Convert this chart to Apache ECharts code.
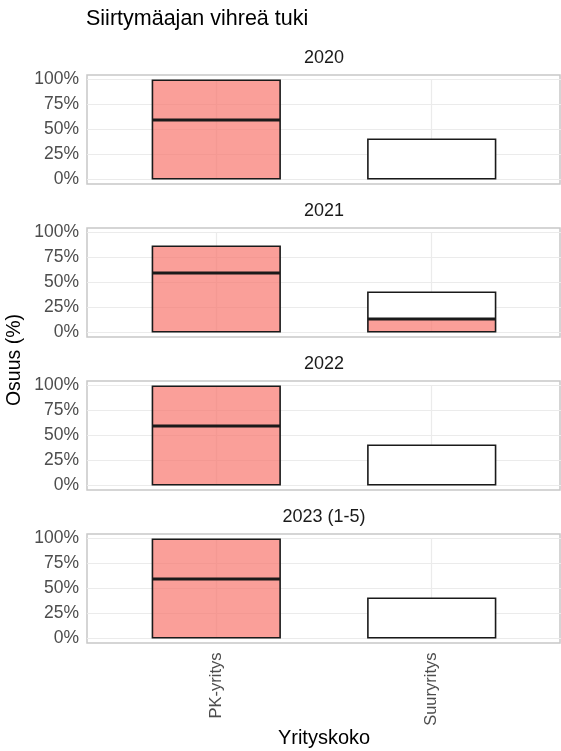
<!DOCTYPE html>
<html>
<head>
<meta charset="utf-8">
<script src="https://cdn.jsdelivr.net/npm/echarts@6/dist/echarts.min.js"></script>
<style>
  html, body { margin: 0; padding: 0; background: #fff; }
  #chart { width: 561px; height: 751px; }
</style>
</head>
<body>
<div id="chart"></div>
<script>
const years = ['2020', '2021', '2022', '2023 (1-5)'];
const categories = ['PK-yritys', 'Suuryritys'];
// pinon alaosa ja yläosa (%), järjestys: PK-yritys, Suuryritys
const lowerShare = [[59.5, 0], [59.5, 13.5], [59.5, 0], [59.5, 0]];
const upperShare = [[40.5, 41], [27.5, 27.5], [40.5, 41], [40.5, 41]];
const lowerFill = ['red', 'red'];
const upperFill = ['red', 'white'];
const yTicks = [0, 25, 50, 75, 100];

const fills = { red: 'rgba(248, 118, 109, 0.7)', white: '#ffffff' };
const font = 'Liberation Sans, Arial, sans-serif';
const panelTop = [79.5, 232.5, 385.5, 538.5];
const left = 87, width = 474, inner = 100;
// ggplot-tyylinen 0.6 yksikön laajennus diskreetille akselille
const band = width / (categories.length + 0.2);

const chart = echarts.init(document.getElementById('chart'));

const grids = [], xAxes = [], yAxes = [], series = [], graphics = [];
const yMin = yTicks[0], yMax = yTicks[yTicks.length - 1];

years.forEach((year, i) => {
  const last = i === years.length - 1;
  // taustapaneeli: ruudukko ja y-akselin tekstit
  const bg = grids.length;
  grids.push({ left: left, top: panelTop[i], width: width, height: inner });
  xAxes.push({
    type: 'value', gridIndex: bg, min: 0.4, max: 2.6, interval: 0.2,
    axisLine: { show: false }, axisTick: { show: false }, axisLabel: { show: false },
    splitLine: {
      lineStyle: { color: ['transparent', 'transparent', 'transparent', '#ebebeb', 'transparent'], width: 1.2 }
    }
  });
  yAxes.push({
    type: 'value', gridIndex: bg, min: yMin, max: yMax, interval: 25,
    axisLine: { show: false }, axisTick: { show: false },
    splitLine: { lineStyle: { color: '#ebebeb', width: 1.2 } },
    axisLabel: { formatter: '{value}%', fontSize: 17.5, color: '#4d4d4d', fontFamily: font, margin: 8 }
  });

  // palkit: kategoria-akseli
  const fg = grids.length;
  grids.push({ left: left + 0.1 * band, top: panelTop[i], width: 2 * band, height: inner });
  xAxes.push({
    type: 'category', gridIndex: fg, data: categories,
    axisLine: { show: false }, axisTick: { show: false }, splitLine: { show: false },
    axisLabel: {
      show: last, rotate: 90, margin: 14, fontSize: 16.5, color: '#4d4d4d', fontFamily: font
    }
  });
  yAxes.push({
    type: 'value', gridIndex: fg, min: yMin, max: yMax,
    show: false
  });

  [[lowerShare, lowerFill], [upperShare, upperFill]].forEach(([vals, fill]) => {
    series.push({
      type: 'bar', xAxisIndex: fg, yAxisIndex: fg, stack: 'p' + i, barWidth: 0.6 * band,
      silent: true,
      data: categories.map((c, j) => ({
        value: vals[i][j],
        itemStyle: {
          color: fills[fill[j]], borderColor: '#1a1a1a',
          borderWidth: vals[i][j] > 0 ? 1.6 : 0
        }
      }))
    });
  });

  graphics.push({
    type: 'rect', z: 0, silent: true,
    shape: { x: left, y: panelTop[i] - 4.5, width: width - 1, height: inner + 9 },
    style: { fill: 'none', stroke: '#c8c8c8', lineWidth: 1.5 }
  });
  graphics.push({
    type: 'text', x: left + width / 2, y: panelTop[i] - 21,
    style: { text: year, font: '18px ' + font, fill: '#1a1a1a', textAlign: 'center', textVerticalAlign: 'middle' }
  });
});

graphics.push({
  type: 'text', x: 86, y: 19,
  style: { text: 'Siirtymäajan vihreä tuki', font: '21.5px ' + font, fill: '#000', textAlign: 'left', textVerticalAlign: 'middle' }
});
graphics.push({
  type: 'text', x: 15, y: 360, rotation: Math.PI / 2,
  style: { text: 'Osuus (%)', font: '19.5px ' + font, fill: '#000', textAlign: 'center', textVerticalAlign: 'middle' }
});
graphics.push({
  type: 'text', x: 324, y: 738,
  style: { text: 'Yrityskoko', font: '20px ' + font, fill: '#000', textAlign: 'center', textVerticalAlign: 'middle' }
});

chart.setOption({
  animation: false,
  grid: grids,
  xAxis: xAxes,
  yAxis: yAxes,
  series: series,
  graphic: graphics
});
</script>
</body>
</html>
